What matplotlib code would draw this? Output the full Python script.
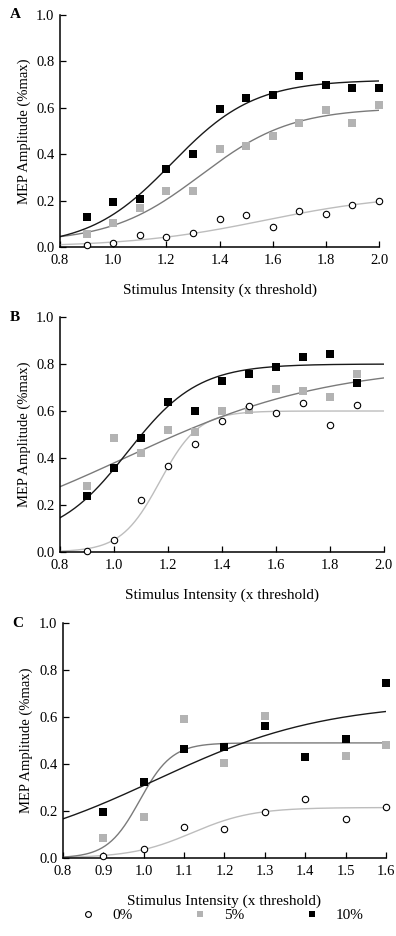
import numpy as np
import matplotlib
matplotlib.use("Agg")
import matplotlib.pyplot as plt
from matplotlib.lines import Line2D

plt.rcParams['font.family'] = ['Liberation Serif', 'DejaVu Serif']
plt.rcParams['font.size'] = 10.5

# --- data ---
levels = ['0%', '5%', '10%']

x_a = [0.9, 1.0, 1.1, 1.2, 1.3, 1.4, 1.5, 1.6, 1.7, 1.8, 1.9, 2.0]
a_0 = [0.007, 0.017, 0.05, 0.045, 0.06, 0.12, 0.137, 0.088, 0.155, 0.142, 0.18, 0.199]
a_5 = [0.058, 0.104, 0.17, 0.243, 0.243, 0.424, 0.435, 0.48, 0.534, 0.59, 0.534, 0.61]
a_10 = [0.13, 0.195, 0.207, 0.334, 0.40, 0.596, 0.643, 0.656, 0.737, 0.698, 0.685, 0.685]

x_b = [0.9, 1.0, 1.1, 1.2, 1.3, 1.4, 1.5, 1.6, 1.7, 1.8, 1.9]
b_0 = [0.003, 0.052, 0.221, 0.367, 0.46, 0.559, 0.62, 0.593, 0.634, 0.542, 0.626]
b_5 = [0.28, 0.485, 0.42, 0.52, 0.512, 0.599, 0.606, 0.695, 0.684, 0.658, 0.757]
b_10 = [0.24, 0.356, 0.484, 0.64, 0.60, 0.728, 0.759, 0.787, 0.83, 0.841, 0.72]

x_c = [0.9, 1.0, 1.1, 1.2, 1.3, 1.4, 1.5, 1.6]
c_0 = [0.009, 0.038, 0.13, 0.122, 0.197, 0.252, 0.165, 0.216]
c_5 = [0.084, 0.174, 0.59, 0.404, 0.606, 0.43, 0.435, 0.479]
c_10 = [0.194, 0.323, 0.462, 0.472, 0.563, 0.431, 0.508, 0.745]

# Boltzmann fit parameters (bottom, top, x50, slope) per panel/level
fit_a = [(0.0, 0.23, 1.57, 0.25), (0.02, 0.60, 1.33, 0.17), (0.0, 0.72, 1.22, 0.155)]
fit_b = [(0.0, 0.60, 1.17, 0.072), (0.0, 0.80, 1.04, 0.38), (0.05, 0.80, 1.05, 0.13)]
fit_c = [(0.0, 0.215, 1.12, 0.075), (0.0, 0.49, 0.99, 0.04), (0.0, 0.665, 1.03, 0.21)]

panels = [
    ('A', x_a, [a_0, a_5, a_10], fit_a, 2.0, np.arange(0.8, 2.01, 0.2), [0.1515, 0.7361, 0.8056, 0.248]),
    ('B', x_b, [b_0, b_5, b_10], fit_b, 2.0, np.arange(0.8, 2.01, 0.2), [0.1515, 0.4103, 0.818, 0.251]),
    ('C', x_c, [c_0, c_5, c_10], fit_c, 1.6, np.arange(0.8, 1.61, 0.1), [0.159, 0.0833, 0.8157, 0.251]),
]

line_cols = ['#bdbdbd', '#7a7a7a', '#1a1a1a']
mk = [dict(marker='o', mfc='white', mec='black', ms=4.6, mew=0.8),
      dict(marker='s', mfc='#b3b3b3', mec='#b3b3b3', ms=5.4, mew=0),
      dict(marker='s', mfc='black', mec='black', ms=5.4, mew=0)]


def boltz(x, p):
    b, t, x50, k = p
    return b + (t - b) / (1 + np.exp((x50 - x) / k))


fig = plt.figure(figsize=(3.96, 9.36), dpi=100)

for letter, xs, ys, fits, xmax, xt, rect in panels:
    ax = fig.add_axes(rect)
    xx = np.linspace(0.8, xmax, 200)
    for i in range(3):
        ax.plot(xx, boltz(xx, fits[i]), color=line_cols[i], lw=1.0, zorder=2)
    # draw 5% first so black squares sit on top
    for i in [1, 0, 2]:
        ax.plot(xs, ys[i], ls='none', zorder=3, clip_on=False, **mk[i])
    ax.set_xlim(0.8, xmax)
    ax.set_ylim(0, 1.0)
    ax.set_xticks(xt)
    ax.set_xticklabels(['%.1f' % v for v in xt])
    ax.set_yticks(np.arange(0, 1.01, 0.2))
    ax.set_yticklabels(['%.1f' % v for v in np.arange(0, 1.01, 0.2)])
    ax.spines['top'].set_visible(False)
    ax.spines['right'].set_visible(False)
    for s in ['left', 'bottom']:
        ax.spines[s].set_linewidth(1.1)
    ax.tick_params(direction='in', length=4, width=0.9, labelsize=10.5)
    ax.tick_params(axis='y', pad=4)
    ax.tick_params(axis='x', pad=5)
    ax.set_xlabel('Stimulus Intensity (x threshold)', fontsize=11, labelpad=12)
    ax.set_ylabel('MEP Amplitude (%max)', fontsize=10.5, labelpad=4)
    ax.text(-0.14, 1.0, letter, transform=ax.transAxes, fontweight='bold',
            fontsize=11, ha='center', va='center')

handles = [Line2D([], [], ls='none', marker='o', mfc='white', mec='black', ms=4.2, mew=0.8),
           Line2D([], [], ls='none', marker='s', mfc='#b3b3b3', mec='#b3b3b3', ms=4.4, mew=0),
           Line2D([], [], ls='none', marker='s', mfc='black', mec='black', ms=4.4, mew=0)]
fig.legend(handles, levels, ncol=3, loc='center', bbox_to_anchor=(0.555, 0.022),
           frameon=False, fontsize=11, handlelength=1.6, handletextpad=0.8,
           columnspacing=3.6)

fig.savefig('out.png', dpi=100)
